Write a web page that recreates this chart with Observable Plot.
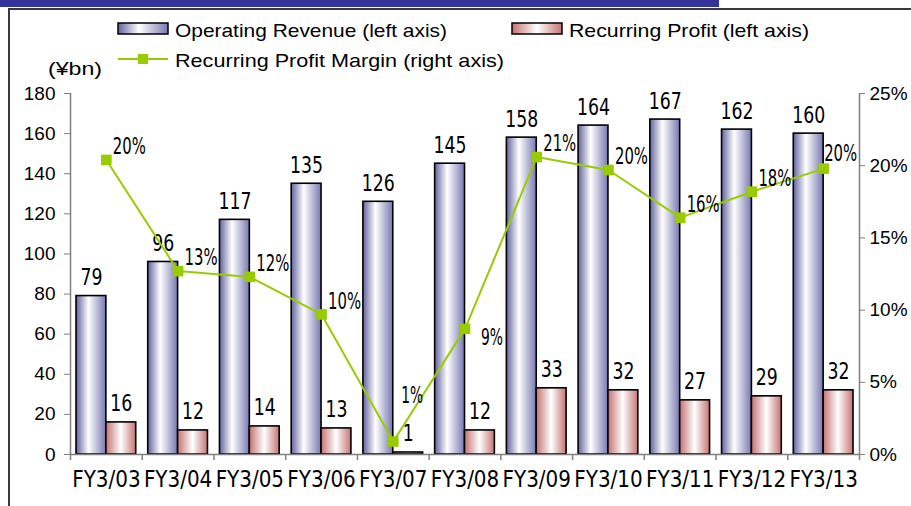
<!DOCTYPE html>
<html>
<head>
<meta charset="utf-8">
<script src="https://cdn.jsdelivr.net/npm/d3@7"></script>
<script src="https://cdn.jsdelivr.net/npm/@observablehq/plot@0.6"></script>
<style>
  body { margin: 0; background: #fff; }
  #page { position: relative; width: 911px; height: 506px; overflow: hidden; background: #fff; }
  #band { position: absolute; left: 0; top: 0; width: 719px; height: 7px; background: #333399; }
  #frame { position: absolute; left: 8px; top: 8px; right: -10px; bottom: -10px; border-left: 2px solid #3a3a3a; border-top: 2px solid #3a3a3a; }
  #chart { position: absolute; left: 0; top: 0; }
  #legend { position: absolute; left: 0; top: 0; font-family: "Liberation Sans", Arial, sans-serif; }
</style>
</head>
<body>
<div id="page">
  <div id="band"></div>
  <div id="frame"></div>
  <div id="chart"></div>
  <svg id="legend" width="911" height="90">
    <defs>
      <linearGradient id="gRev" x1="0" x2="1" y1="0" y2="0">
        <stop offset="0" stop-color="#62629e"/>
        <stop offset="0.42" stop-color="#ffffff"/>
        <stop offset="1" stop-color="#7878b2"/>
      </linearGradient>
      <linearGradient id="gPro" x1="0" x2="1" y1="0" y2="0">
        <stop offset="0" stop-color="#c47272"/>
        <stop offset="0.5" stop-color="#ffffff"/>
        <stop offset="1" stop-color="#c67474"/>
      </linearGradient>
    </defs>
    <rect x="118" y="23" width="50" height="11" fill="url(#gRev)" stroke="#000" stroke-width="1.5"/>
    <text x="175" y="37" font-size="19" textLength="272" lengthAdjust="spacingAndGlyphs">Operating Revenue (left axis)</text>
    <rect x="512" y="23" width="50" height="11" fill="url(#gPro)" stroke="#000" stroke-width="1.5"/>
    <text x="569" y="37" font-size="19" textLength="240" lengthAdjust="spacingAndGlyphs">Recurring Profit (left axis)</text>
    <line x1="118" x2="168" y1="59" y2="59" stroke="#99cc00" stroke-width="2"/>
    <rect x="138" y="54" width="10" height="10" fill="#99cc00"/>
    <text x="175" y="67" font-size="19" textLength="329" lengthAdjust="spacingAndGlyphs">Recurring Profit Margin (right axis)</text>
    <text x="48" y="75" font-size="19" textLength="54" lengthAdjust="spacingAndGlyphs">(¥bn)</text>
  </svg>
</div>
<script>
const categories = ["FY3/03","FY3/04","FY3/05","FY3/06","FY3/07","FY3/08","FY3/09","FY3/10","FY3/11","FY3/12","FY3/13"];
const revenue = [79, 96, 117, 135, 126, 145, 158, 164, 167, 162, 160];
const profit = [16, 12, 14, 13, 1, 12, 33, 32, 27, 29, 32];
const profitMargin = [20.4, 12.7, 12.3, 9.7, 0.9, 8.7, 20.6, 19.7, 16.4, 18.2, 19.8];
const leftTicks = [0, 20, 40, 60, 80, 100, 120, 140, 160, 180];
const rightTicks = [0, 5, 10, 15, 20, 25];

const W = 911, H = 506, mL = 70, mR = 52, mT = 93, mB = 52;
const step = (W - mL - mR) / categories.length;
const leftMax = leftTicks[leftTicks.length - 1];
const rightMax = rightTicks[rightTicks.length - 1];
const k = leftMax / rightMax;
const pxPerUnit = (H - mT - mB) / leftMax;
const NARROW = '"DejaVu Sans Condensed","Liberation Sans",sans-serif';
const REG = '"Liberation Sans",Arial,sans-serif';
const AXIS = "#808080";
const GREEN = "#99cc00";

const rows = categories.map((c, i) => ({cat: c, revenue: revenue[i], profit: profit[i], margin: profitMargin[i]}));
const pct = d => Math.round(d.margin) + "%";
const special = ["FY3/07", "FY3/08", "FY3/13"];
const pctLabel = (data, dx, dy) => Plot.text(data, {x: "cat", y: d => d.margin * k, text: pct, dx, dy, lineAnchor: "middle", fontSize: 23, fontFamily: NARROW});

const svg = Plot.plot({
  width: W, height: H,
  marginTop: mT, marginBottom: mB, marginLeft: mL, marginRight: mR,
  style: {background: "transparent", color: "#000", overflow: "visible"},
  x: {type: "band", domain: categories, padding: 0, round: false, axis: null},
  y: {domain: [0, leftMax], axis: null},
  marks: [
    Plot.barY(rows, {x: "cat", y: "revenue", fill: "url(#gRev)", stroke: "#000", strokeWidth: 1.6, insetLeft: 6, insetRight: step / 2}),
    Plot.barY(rows, {x: "cat", y: "profit", fill: "url(#gPro)", stroke: "#000", strokeWidth: 1.6, insetLeft: step / 2, insetRight: 6}),
    Plot.ruleY([0], {stroke: AXIS, strokeWidth: 1.5}),
    Plot.ruleX([categories[0]], {dx: -step / 2, y1: 0, y2: leftMax, stroke: AXIS, strokeWidth: 1.5}),
    Plot.ruleX([categories[categories.length - 1]], {dx: step / 2, y1: 0, y2: leftMax, stroke: AXIS, strokeWidth: 1.5}),
    Plot.ruleX(categories, {dx: -step / 2, y1: 0, y2: -6 / pxPerUnit, stroke: AXIS, strokeWidth: 1.5}),
    Plot.ruleX([categories[categories.length - 1]], {dx: step / 2, y1: 0, y2: -6 / pxPerUnit, stroke: AXIS, strokeWidth: 1.5}),
    Plot.axisY({ticks: leftTicks, anchor: "left", tickSize: 6, tickPadding: 9, stroke: AXIS, fontSize: 19, fontFamily: REG, label: null, tickFormat: d => String(d)}),
    Plot.axisY({ticks: rightTicks.map(v => v * k), anchor: "right", tickSize: 5, tickPadding: 5, stroke: AXIS, fontSize: 19, fontFamily: REG, label: null, tickFormat: v => Math.round(v / k) + "%"}),
    Plot.axisX({anchor: "bottom", tickSize: 0, tickPadding: 16, fontSize: 23, fontFamily: NARROW, label: null}),
    Plot.text(rows, {x: "cat", y: "revenue", text: d => String(d.revenue), dx: -step / 4 + 3, dy: -11, lineAnchor: "bottom", fontSize: 23, fontFamily: NARROW}),
    Plot.text(rows, {x: "cat", y: "profit", text: d => String(d.profit), dx: step / 4 - 3, dy: -11, lineAnchor: "bottom", fontSize: 23, fontFamily: NARROW}),
    Plot.line(rows, {x: "cat", y: d => d.margin * k, stroke: GREEN, strokeWidth: 2}),
    Plot.dot(rows, {x: "cat", y: d => d.margin * k, symbol: "square", r: 6, fill: GREEN, stroke: "none"}),
    pctLabel(rows.filter(d => !special.includes(d.cat)), 23, -13),
    pctLabel(rows.filter(d => d.cat === "FY3/07"), 19, -46),
    pctLabel(rows.filter(d => d.cat === "FY3/08"), 27, 9),
    pctLabel(rows.filter(d => d.cat === "FY3/13"), 17, -15)
  ]
});
document.getElementById("chart").appendChild(svg);
// condensed glyph widths, like the reference's half-width font
d3.select(svg).selectAll("[aria-label='x-axis tick label'] text").each(function() {
  this.setAttribute("textLength", this.textContent.length * 11.4);
  this.setAttribute("lengthAdjust", "spacingAndGlyphs");
});
d3.select(svg).selectAll("g[aria-label='text'] text").each(function() {
  this.setAttribute("textLength", this.textContent.length * 11);
  this.setAttribute("lengthAdjust", "spacingAndGlyphs");
});
</script>
</body>
</html>
